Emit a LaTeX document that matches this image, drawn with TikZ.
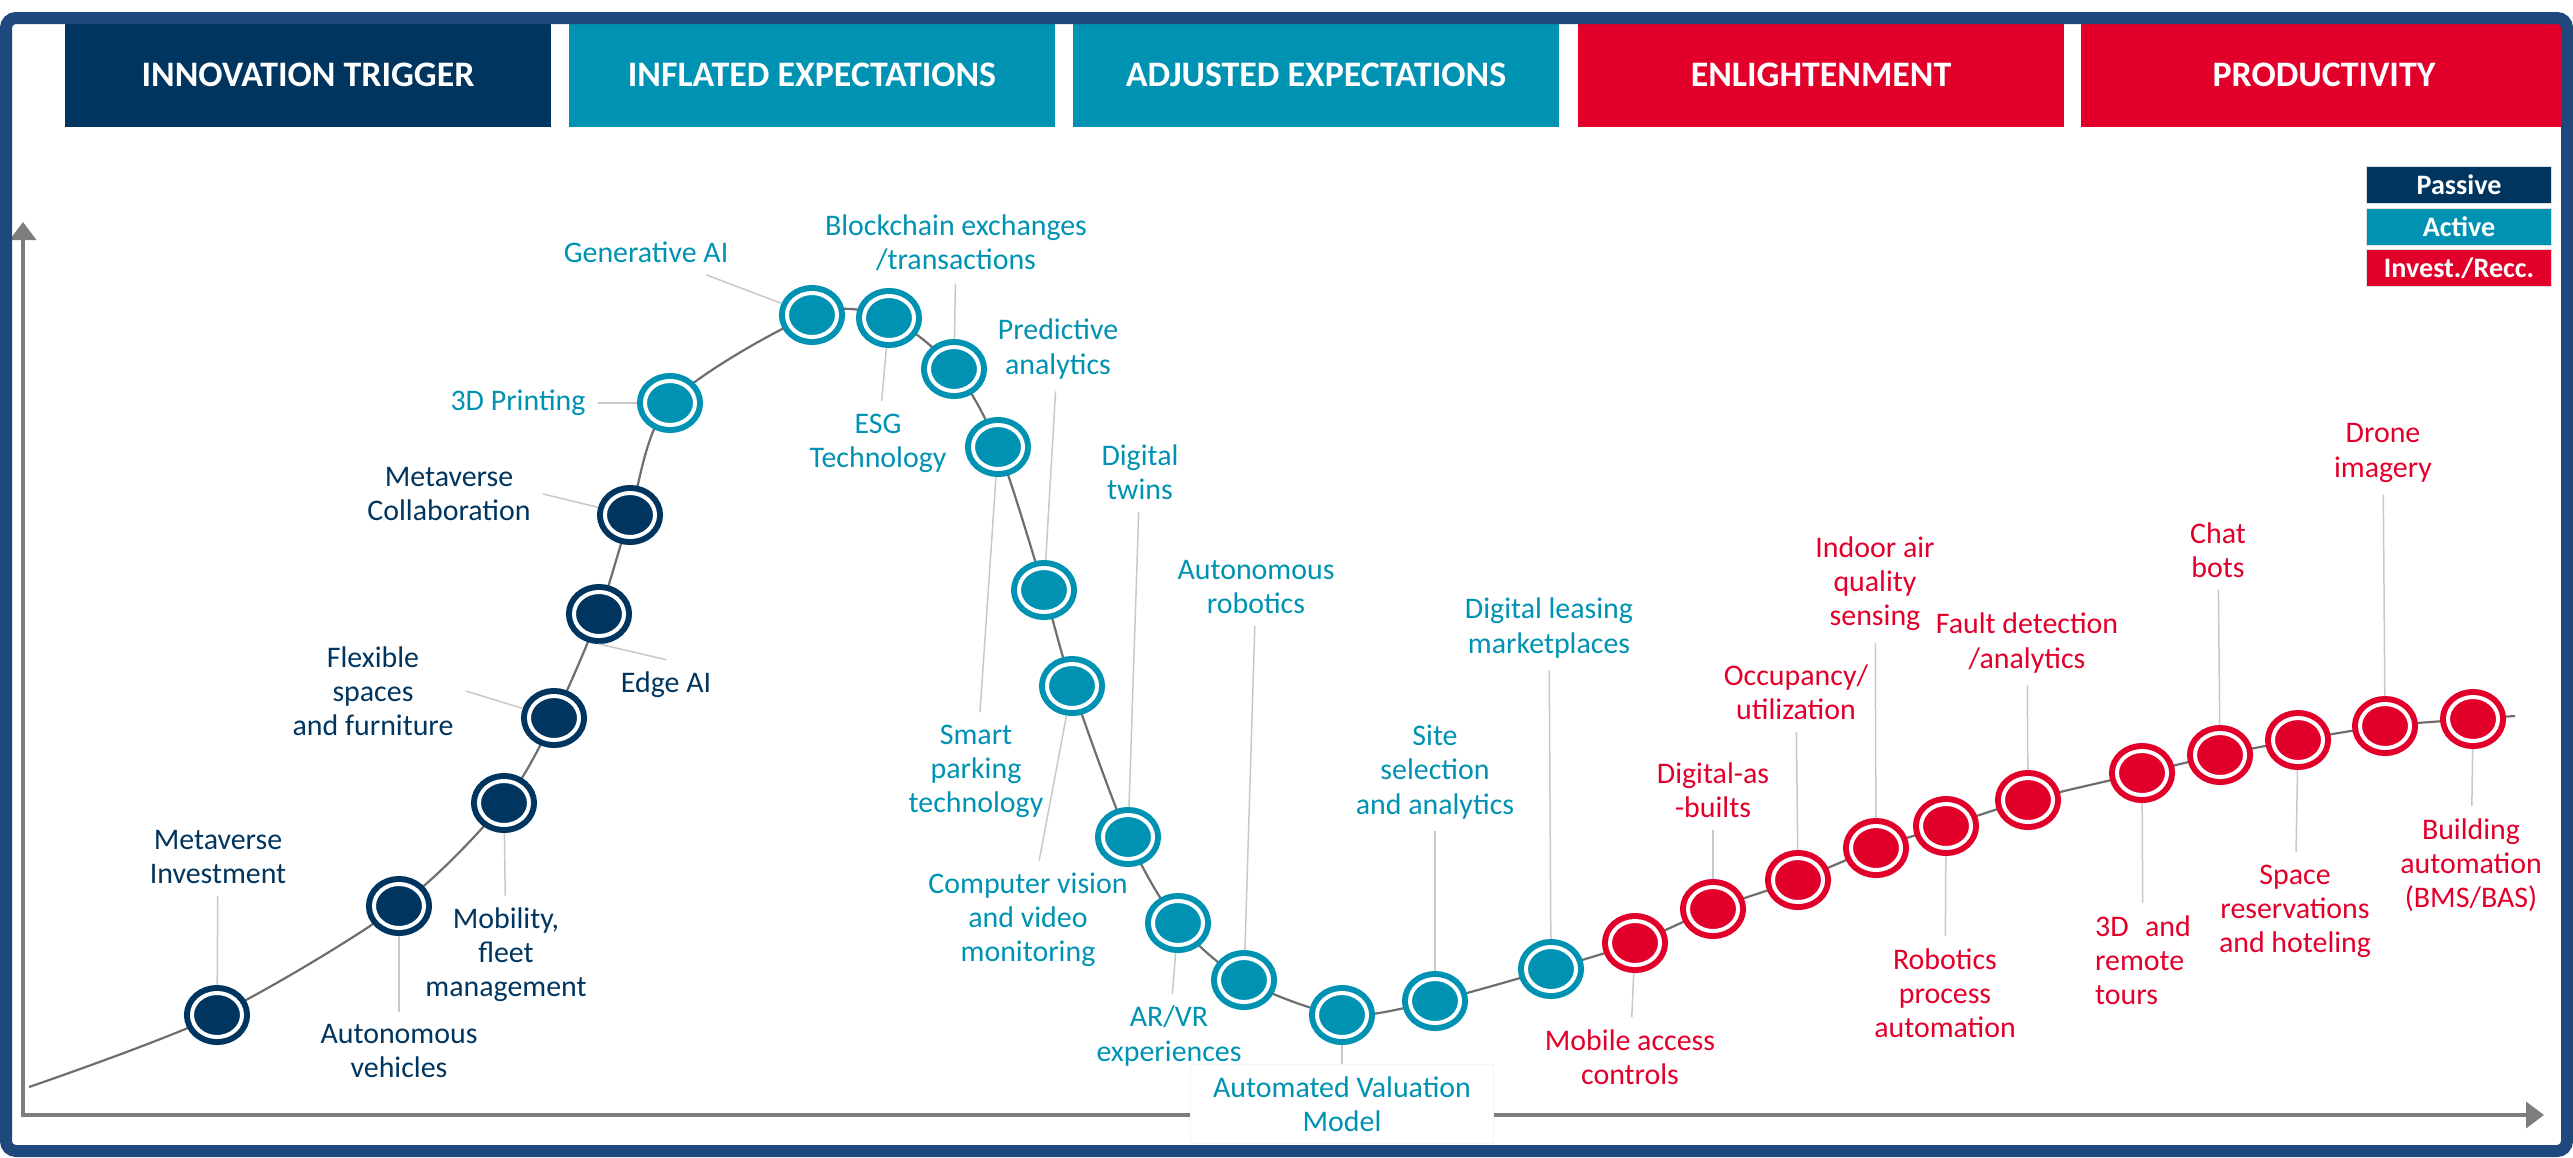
\documentclass[tikz,border=0pt]{standalone}
\usepackage{fontspec}
\setmainfont{Carlito}
\definecolor{passnavy}{RGB}{0, 53, 95}
\definecolor{actteal}{RGB}{0, 146, 178}
\definecolor{invred}{RGB}{226, 0, 43}
\definecolor{frameblue}{RGB}{31, 73, 125}
\definecolor{curvegray}{RGB}{110, 110, 110}
\definecolor{axisgray}{RGB}{125, 125, 125}
\definecolor{leadgray}{RGB}{200, 200, 200}
\usetikzlibrary{shapes.geometric, arrows.meta, backgrounds}

\begin{document}
\begin{tikzpicture}[x=0.01cm, y=-0.01cm,
  phase/.style={minimum width=4.86cm, minimum height=1.04cm, inner sep=0pt, text=white, font=\fontsize{10.2}{12}\selectfont\bfseries},
  legendbox/.style={minimum width=1.84cm, minimum height=0.37cm, inner sep=0pt, text=white, draw=gray!25, line width=0.01cm, font=\fontsize{8}{9}\selectfont\bfseries},
  dot/.style={ellipse, minimum width=0.5cm, minimum height=0.44cm, inner sep=0pt, outer sep=0.08cm, line width=0.06cm, double=white, double distance=0.04cm},
  passdot/.style={dot, draw=passnavy, fill=passnavy},
  actdot/.style={dot, draw=actteal, fill=actteal},
  invdot/.style={dot, draw=invred, fill=invred},
  lab/.style={align=center, font=\fontsize{8.5}{9.7}\selectfont},
  passlab/.style={lab, text=passnavy},
  actlab/.style={lab, text=actteal},
  invlab/.style={lab, text=invred},
  leader/.style={draw=leadgray, line width=0.015cm},
  backbone/.style={draw=curvegray, line width=0.022cm}]

  \useasboundingbox (0,0) rectangle (2573,1157);

  % Phases
  \node[phase, fill=passnavy] (trigger) at (308,75) {INNOVATION TRIGGER};
  \node[phase, fill=actteal] (inflated) at (812,75) {INFLATED EXPECTATIONS};
  \node[phase, fill=actteal] (adjusted) at (1316,75) {ADJUSTED EXPECTATIONS};
  \node[phase, fill=invred] (enlight) at (1821,75) {ENLIGHTENMENT};
  \node[phase, fill=invred] (product) at (2324,75) {PRODUCTIVITY};

  % Legend
  \node[legendbox, fill=passnavy] (legpass) at (2459,185) {Passive};
  \node[legendbox, fill=actteal] (legact) at (2459,227) {Active};
  \node[legendbox, fill=invred] (leginv) at (2459,268) {Invest./Recc.};

  % Axes
  \draw[axisgray, line width=0.035cm, {Triangle[length=0.18cm, width=0.26cm]}-{Triangle[length=0.18cm, width=0.26cm]}]
    (23,222) -- (23,1115) -- (2544,1115);

  % Passive
  \node[passdot] (metinv) at (217,1015) {};
  \node[passdot] (autoveh) at (399,906) {};
  \node[passdot] (mobility) at (504,803) {};
  \node[passdot] (flexible) at (554,718) {};
  \node[passdot] (edgeai) at (599,614) {};
  \node[passdot] (metcollab) at (630,515) {};

  % Active
  \node[actdot] (print3d) at (670,403) {};
  \node[actdot] (genai) at (812,315) {};
  \node[actdot] (esg) at (889,318) {};
  \node[actdot] (blockchain) at (954,369) {};
  \node[actdot] (parking) at (998,447) {};
  \node[actdot] (predictive) at (1044,590) {};
  \node[actdot] (vision) at (1072,686) {};
  \node[actdot] (twins) at (1128,837) {};
  \node[actdot] (arvr) at (1178,923) {};
  \node[actdot] (robotics) at (1244,980) {};
  \node[actdot] (avm) at (1342,1015) {};
  \node[actdot] (site) at (1435,1001) {};
  \node[actdot] (leasing) at (1551,969) {};

  % Invest./Recc.
  \node[invdot] (access) at (1635,943) {};
  \node[invdot] (asbuilt) at (1713,909) {};
  \node[invdot] (occupancy) at (1798,880) {};
  \node[invdot] (airquality) at (1876,848) {};
  \node[invdot] (rpa) at (1946,826) {};
  \node[invdot] (fault) at (2028,800) {};
  \node[invdot] (tours) at (2142,773) {};
  \node[invdot] (chatbots) at (2220,755) {};
  \node[invdot] (hoteling) at (2298,740) {};
  \node[invdot] (drone) at (2385,726) {};
  \node[invdot] (bms) at (2473,719) {};

  % Hype curve
  \begin{scope}[on background layer]
    \draw[backbone] plot[smooth] coordinates {(29,1087) (metinv) (autoveh) (mobility) (flexible) (edgeai) (metcollab)
      (print3d) (genai) (esg) (blockchain) (parking) (predictive) (vision) (twins) (arvr) (robotics) (avm) (site) (leasing)
      (access) (asbuilt) (occupancy) (airquality) (rpa) (fault) (tours) (chatbots) (hoteling) (drone) (bms) (2515,716)};
  \end{scope}

  % Labels
  \node[passlab] (metinv-lab) at (218,857) {Metaverse\\Investment};
  \node[passlab] (autoveh-lab) at (399,1051) {Autonomous\\vehicles};
  \node[passlab] (mobility-lab) at (506,955) {Mobility,\\fleet\\management};
  \node[passlab] (flexible-lab) at (373,691) {Flexible\\spaces\\and furniture};
  \node[passlab] (edgeai-lab) at (666,685) {Edge AI};
  \node[passlab] (metcollab-lab) at (449,494) {Metaverse\\Collaboration};

  \node[actlab] (print3d-lab) at (518,403) {3D Printing};
  \node[actlab] (genai-lab) at (646,252) {Generative AI};
  \node[actlab] (esg-lab) at (878,443) {ESG\\Technology};
  \node[actlab] (blockchain-lab) at (956,243) {Blockchain exchanges\\/transactions};
  \node[actlab] (parking-lab) at (976,771) {Smart\\parking\\technology};
  \node[actlab] (predictive-lab) at (1058,349) {Predictive\\analytics};
  \node[actlab] (vision-lab) at (1028,920) {Computer vision\\and video\\monitoring};
  \node[actlab] (twins-lab) at (1140,472) {Digital\\twins};
  \node[actlab] (arvr-lab) at (1169,1036) {AR/VR\\experiences};
  \node[actlab] (robotics-lab) at (1256,587) {Autonomous\\robotics};
  \node[actlab, fill=white, draw=gray!8, minimum width=3.03cm, minimum height=0.66cm] (avm-lab) at (1342,1104) {Automated Valuation\\Model};
  \node[actlab] (site-lab) at (1435,772) {Site\\selection\\and analytics};
  \node[actlab] (leasing-lab) at (1549,628) {Digital leasing\\marketplaces};

  \node[invlab] (access-lab) at (1630,1057) {Mobile access\\controls};
  \node[invlab] (asbuilt-lab) at (1713,790) {Digital-as\\-builts};
  \node[invlab] (occupancy-lab) at (1796,692) {Occupancy/\\utilization};
  \node[invlab] (airquality-lab) at (1875,584) {Indoor air\\quality\\sensing};
  \node[invlab] (rpa-lab) at (1945,993) {Robotics\\process\\automation};
  \node[invlab] (fault-lab) at (2027,643) {Fault detection\\/analytics};
  \node[invlab, align=left] (tours-lab) at (2143,960) {3D\hspace{0.55em}and\\remote\\tours};
  \node[invlab] (chatbots-lab) at (2218,550) {Chat\\bots};
  \node[invlab] (hoteling-lab) at (2295,911) {Space\\reservations\\and hoteling};
  \node[invlab] (drone-lab) at (2383,453) {Drone\\imagery};
  \node[invlab] (bms-lab) at (2471,865) {Building\\automation\\(BMS/BAS)};

  % Leaders
  \draw[leader] (metinv-lab) -- (metinv);
  \draw[leader] (autoveh-lab) -- (autoveh);
  \draw[leader] (mobility-lab) -- (mobility);
  \draw[leader] (flexible-lab.east) -- (flexible);
  \draw[leader] (edgeai.south) -- (edgeai-lab.north);
  \draw[leader] (metcollab-lab.east) -- (metcollab);
  \draw[leader] (print3d-lab) -- (print3d);
  \draw[leader] (genai-lab) -- (genai);
  \draw[leader] (esg-lab) -- (esg);
  \draw[leader] (blockchain-lab) -- (blockchain);
  \draw[leader] (parking-lab) -- (parking);
  \draw[leader] (predictive-lab) -- (predictive);
  \draw[leader] (vision-lab) -- (vision);
  \draw[leader] (twins-lab) -- (twins);
  \draw[leader] (arvr-lab) -- (arvr);
  \draw[leader] (robotics-lab) -- (robotics);
  \draw[leader] (avm-lab) -- (avm);
  \draw[leader] (site-lab) -- (site);
  \draw[leader] (leasing-lab) -- (leasing);
  \draw[leader] (access-lab) -- (access);
  \draw[leader] (asbuilt-lab) -- (asbuilt);
  \draw[leader] (occupancy-lab) -- (occupancy);
  \draw[leader] (airquality-lab) -- (airquality);
  \draw[leader] (rpa-lab) -- (rpa);
  \draw[leader] (fault-lab) -- (fault);
  \draw[leader] (tours-lab) -- (tours);
  \draw[leader] (chatbots-lab) -- (chatbots);
  \draw[leader] (hoteling-lab) -- (hoteling);
  \draw[leader] (drone-lab) -- (drone);
  \draw[leader] (bms-lab) -- (bms);

  % Frame
  \draw[frameblue, line width=0.12cm, rounded corners=0.1cm] (6,18) rectangle (2567,1151);
\end{tikzpicture}
\end{document}
